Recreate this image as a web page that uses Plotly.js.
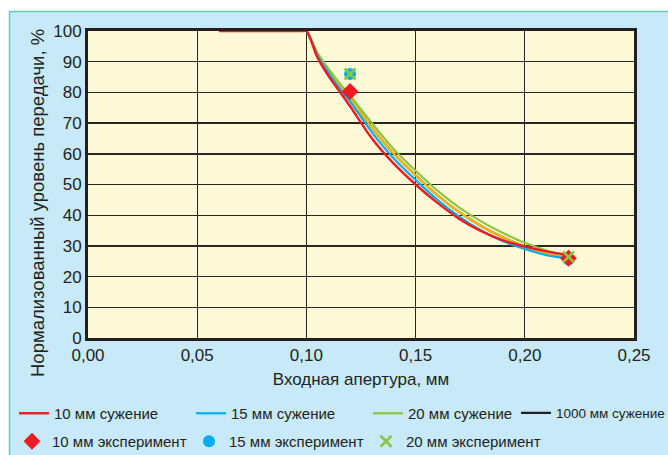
<!DOCTYPE html>
<html>
<head>
<meta charset="utf-8">
<script src="https://cdn.plot.ly/plotly-3.0.1.min.js"></script>
<style>html,body{margin:0;padding:0;background:#fff;}#chart{width:668px;height:455px;}</style>
</head>
<body>
<div id="chart"></div>
<script>
// Data
var xCurve = [0.06, 0.098, 0.10, 0.105, 0.11, 0.115, 0.12, 0.13, 0.14, 0.15, 0.16, 0.17, 0.18, 0.19, 0.20, 0.21, 0.22];
var y10 = [100, 100, 100, 91.5, 85.5, 80.5, 75.5, 65, 56.8, 50, 44, 38.8, 34.8, 31.8, 29.8, 28.2, 27];
var y15 = [100, 100, 100, 92, 86.5, 81.5, 77, 67, 58.5, 51.5, 45, 39.5, 35, 31.5, 29, 27, 25.8];
var y20 = [100, 100, 100, 93, 87.8, 83.2, 79, 70, 61.5, 54.5, 48, 42.5, 38, 34.2, 31, 28.5, 26.5];
var y1000 = [100, 100, 100, 92.5, 87, 82.5, 78, 68.5, 60, 53, 46.5, 41, 36.5, 32.8, 29.8, 27.5, 26.2];
var xExp = [0.12, 0.22];
var e10 = [80.3, 26];
var e15 = [86, 25.6];
var e20 = [86, 26.4];
var xTicks = [0, 0.05, 0.10, 0.15, 0.20, 0.25];
var xTickText = ['0,00', '0,05', '0,10', '0,15', '0,20', '0,25'];
var yTicks = [0, 10, 20, 30, 40, 50, 60, 70, 80, 90, 100];

var legFont = {family: 'Liberation Sans Narrow, Liberation Sans, sans-serif', size: 15, color: '#231f20'};
var sp = {shape: 'spline', smoothing: 0.8};

var traces = [
  {x: xCurve, y: y1000, mode: 'lines', name: '1000 мм сужение', line: Object.assign({color: '#231f20', width: 2.2}, sp), legend: 'legend2'},
  {x: xCurve, y: y1000, mode: 'lines', name: '1000 мм (кривая)', line: Object.assign({color: '#fdb913', width: 2.2}, sp), showlegend: false},
  {x: xCurve, y: y20, mode: 'lines', name: '20 мм сужение', line: Object.assign({color: '#8dc63f', width: 2.2}, sp), legend: 'legend', legendrank: 3},
  {x: xCurve, y: y15, mode: 'lines', name: '15 мм сужение', line: Object.assign({color: '#00aeef', width: 2.2}, sp), legend: 'legend', legendrank: 2},
  {x: xCurve, y: y10, mode: 'lines', name: '10 мм сужение', line: Object.assign({color: '#ed1c24', width: 2.4}, sp), legend: 'legend', legendrank: 1},
  {x: xExp, y: e15, mode: 'markers', name: '15 мм эксперимент', marker: {symbol: 'circle', size: 12, color: '#00aeef'}, legend: 'legend3', legendrank: 2},
  {x: xExp, y: e10, mode: 'markers', name: '10 мм эксперимент', marker: {symbol: 'diamond', size: 13, color: '#ed1c24'}, legend: 'legend3', legendrank: 1},
  {x: xExp, y: e20, mode: 'markers', name: '20 мм эксперимент', marker: {symbol: 'x-thin', size: 11, color: '#8dc63f', line: {color: '#8dc63f', width: 2.6}}, legend: 'legend3', legendrank: 3}
];

var W = 546, H = 307; // plot area px
function px(p) { return (p - 88) / W; }
function py(p) { return (338 - p) / H; }
function cx(p) { return p / 668; }
function cy(p) { return 1 - p / 455; }

var layout = {
  width: 668, height: 455,
  margin: {l: 88, r: 34, t: 31, b: 117},
  paper_bgcolor: '#ffffff',
  plot_bgcolor: '#fef9d7',
  font: {family: 'Liberation Sans, Arial, sans-serif', color: '#231f20'},
  showlegend: true,
  xaxis: {
    range: [0, 0.25], tickvals: xTicks, ticktext: xTickText,
    showgrid: true, gridcolor: '#2b2523', gridwidth: 1.4,
    showline: true, linecolor: '#231f20', linewidth: 3, mirror: true,
    zeroline: false, ticks: '', ticklen: 0,
    tickfont: {size: 17, color: '#231f20'},
    title: {text: 'Входная апертура, мм', font: {size: 17, color: '#231f20'}, standoff: 9}
  },
  yaxis: {
    range: [0, 100], tickvals: yTicks,
    showgrid: true, gridcolor: '#2b2523', gridwidth: 1.4,
    showline: true, linecolor: '#231f20', linewidth: 3, mirror: true,
    zeroline: false, ticks: '', ticklen: 0,
    tickfont: {size: 17, color: '#231f20'}
  },
  annotations: [{
    text: 'Нормализованный уровень передачи, %', textangle: -90,
    xref: 'paper', yref: 'paper', x: px(37), y: py(203), xanchor: 'center', yanchor: 'middle',
    showarrow: false, font: {size: 18.5, color: '#231f20'}
  }],
  shapes: [
    {type: 'rect', layer: 'below', xref: 'paper', yref: 'paper', x0: px(9.5), x1: 1.3, y0: -0.6, y1: py(11.5),
     fillcolor: '#c7e9f8', line: {color: '#5fcfb5', width: 1.5}},
    {type: 'rect', layer: 'below', xref: 'paper', yref: 'paper', x0: 0, x1: 1, y0: 0, y1: 1,
     fillcolor: '#fef9d7', line: {width: 0}}
  ],
  legend: {orientation: 'h', xref: 'container', yref: 'container', x: cx(14), y: cy(397), xanchor: 'left', yanchor: 'top', bgcolor: 'rgba(0,0,0,0)',
    font: legFont, entrywidth: 132, entrywidthmode: 'pixels', traceorder: 'normal', itemwidth: 30},
  legend2: {orientation: 'h', xref: 'container', yref: 'container', x: cx(516), y: cy(397.5), xanchor: 'left', yanchor: 'top', bgcolor: 'rgba(0,0,0,0)',
    font: {family: legFont.family, size: 13.5, color: '#231f20'}, itemwidth: 30},
  legend3: {orientation: 'h', xref: 'container', yref: 'container', x: cx(12), y: cy(425), xanchor: 'left', yanchor: 'top', bgcolor: 'rgba(0,0,0,0)',
    font: legFont, entrywidth: 132, entrywidthmode: 'pixels', traceorder: 'normal', itemwidth: 30}
};

Plotly.newPlot('chart', traces, layout, {displayModeBar: false, staticPlot: true});
</script>
</body>
</html>
